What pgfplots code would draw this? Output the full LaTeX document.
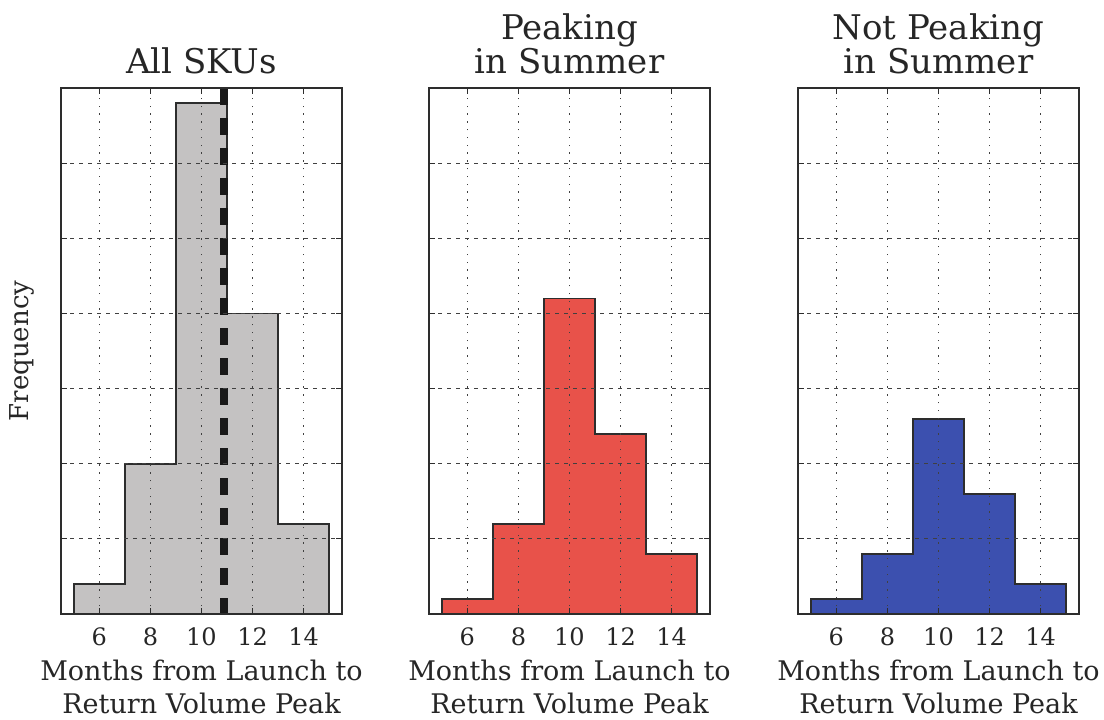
\documentclass[border=0pt]{standalone}
\usepackage{fontspec}
\setmainfont{DejaVu Serif}
\usepackage{pgfplots}
\pgfplotsset{compat=1.18}
\definecolor{histgrey}{RGB}{196,194,194}
\definecolor{histred}{RGB}{232,82,74}
\definecolor{histblue}{RGB}{60,80,175}
\definecolor{edge}{RGB}{45,45,45}
\pgfplotsset{
  panel/.style={
    scale only axis,
    width=140.5pt, height=263pt,
    anchor=south west,
    xmin=4.5, xmax=15.5, ymin=0, ymax=70,
    xtick={6,8,10,12,14}, ytick={0,10,...,70},
    yticklabels={},
    tick align=inside,
    major tick length=3pt,
    tick style={edge, line width=0.5pt},
    axis line style={edge, line width=0.9pt},
    grid=major,
    x grid style={black!75, line width=0.7pt, dash pattern=on 0.7pt off 3.2pt},
    y grid style={black!75, line width=0.5pt, dash pattern=on 2pt off 2.5pt},
    axis on top,
    /pgf/number format/assume math mode=true,
    ticklabel style={font=\fontsize{12}{14}\selectfont, text=black!85},
    xticklabel style={yshift=-3.5pt},
    xlabel={Months from Launch to\\Return Volume Peak},
    xlabel style={font=\fontsize{13.5}{16.5}\selectfont, align=center, text=black!85,
      at={(axis description cs:0.5,0)}, anchor=north, yshift=-19.5pt},
    title style={font=\fontsize{17}{17}\selectfont, align=center, text=black!85,
      at={(axis description cs:0.5,1)}, anchor=south, yshift=-2.5pt},
  }
}
\begin{document}
\begin{tikzpicture}
\useasboundingbox (0,0) rectangle (552pt,-359.5pt);
% All SKUs
\begin{axis}[panel, at={(30.5pt,-307pt)}, title={All SKUs},
  ylabel={Frequency},
  ylabel style={font=\fontsize{13}{16}\selectfont, text=black!85,
    at={(axis description cs:-0.139,0.5)}, anchor=center}]
\addplot[const plot, fill=histgrey, draw=edge, line width=0.9pt]
  coordinates {(5,4) (7,20) (9,68) (11,40) (13,12) (15,12)} \closedcycle;
\addplot[black!90, line width=4pt, dash pattern=on 8.5pt off 6.5pt]
  coordinates {(10.9,70) (10.9,0)};
\end{axis}
% Peaking in Summer
\begin{axis}[panel, at={(214.5pt,-307pt)}, title={Peaking\\in Summer}]
\addplot[const plot, fill=histred, draw=edge, line width=0.9pt]
  coordinates {(5,2) (7,12) (9,42) (11,24) (13,8) (15,8)} \closedcycle;
\end{axis}
% Not Peaking in Summer
\begin{axis}[panel, at={(399pt,-307pt)}, title={Not Peaking\\in Summer}]
\addplot[const plot, fill=histblue, draw=edge, line width=0.9pt]
  coordinates {(5,2) (7,8) (9,26) (11,16) (13,4) (15,4)} \closedcycle;
\end{axis}
\end{tikzpicture}
\end{document}
